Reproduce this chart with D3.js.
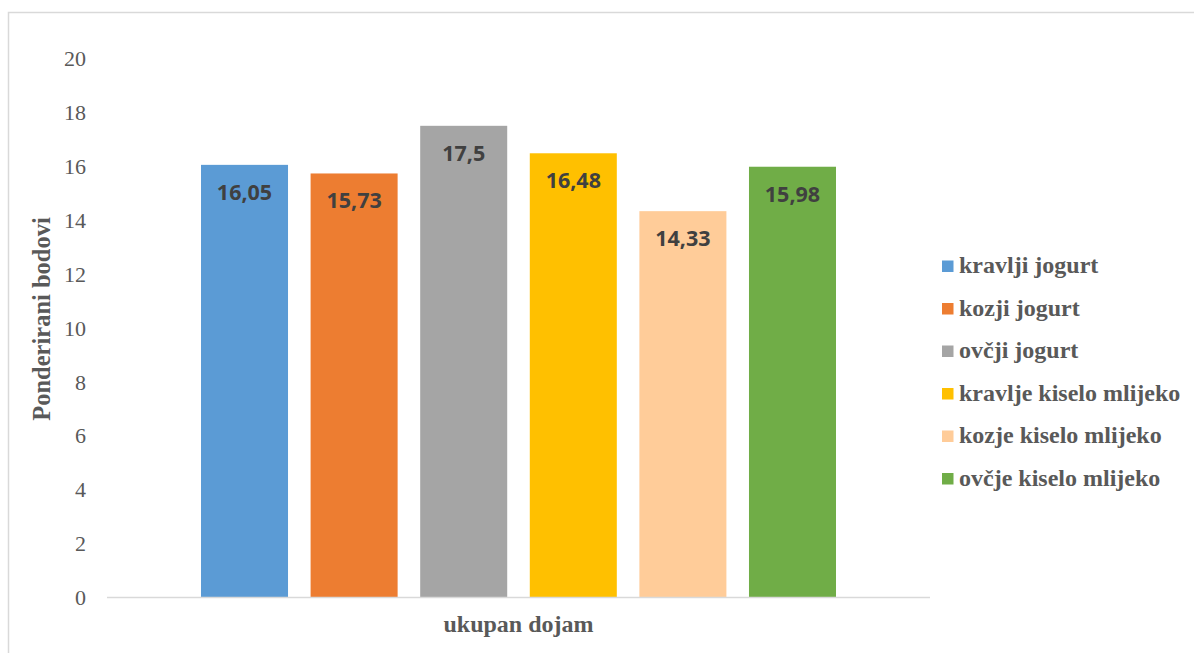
<!DOCTYPE html>
<html><head><meta charset="utf-8">
<script src="https://cdn.jsdelivr.net/npm/d3@7"></script>
<style>body{margin:0;background:#fff;}svg{display:block;}
.serif{font-family:"Liberation Serif","Times New Roman",Tinos,"DejaVu Serif",serif;}
</style>
</head><body>
<svg id="c" width="1194" height="653"></svg>
<script>
const categories = ["ukupan dojam"];
const seriesNames = ["kravlji jogurt","kozji jogurt","ovčji jogurt","kravlje kiselo mlijeko","kozje kiselo mlijeko","ovčje kiselo mlijeko"];
const seriesValues = [16.05, 15.73, 17.5, 16.48, 14.33, 15.98];
const seriesLabels = ["16,05","15,73","17,5","16,48","14,33","15,98"];
const seriesColors = ["#5b9bd5","#ed7d31","#a5a5a5","#ffc000","#ffcc99","#70ad47"];
const yTicks = [0,2,4,6,8,10,12,14,16,18,20];
const yTitle = "Ponderirani bodovi";

const svg = d3.select("#c");
svg.append("rect").attr("x",8.5).attr("y",12.5).attr("width",1200).attr("height",700)
  .attr("fill","none").attr("stroke","#d9d9d9").attr("stroke-width",1.5);

const plot = {left:107, right:930, top:58.5, bottom:597};
const y = d3.scaleLinear().domain([0,20]).range([plot.bottom, plot.top]);
const xCat = d3.scaleBand().domain(categories).range([plot.left, plot.right]).paddingInner(0).paddingOuter(0);
const groupW = 635;
const xS = d3.scaleBand().domain(seriesNames)
  .range([xCat(categories[0]) + xCat.bandwidth()/2 - groupW/2, xCat(categories[0]) + xCat.bandwidth()/2 + groupW/2])
  .paddingInner(0.206).paddingOuter(0);

// y tick labels
const yAxis = d3.axisLeft(y).tickValues(yTicks).tickSize(0).tickPadding(0);
const ga = svg.append("g").attr("transform","translate(86,0)").call(yAxis);
ga.select(".domain").remove();
ga.attr("font-family",null);
ga.selectAll("text").attr("class","serif").attr("font-size",22).attr("fill","#595959").attr("dy","0.34em");

// bars
svg.selectAll("rect.bar").data(seriesNames).enter().append("rect").attr("class","bar")
  .attr("x",d=>xS(d)).attr("width",xS.bandwidth())
  .attr("y",(d,i)=>y(seriesValues[i])).attr("height",(d,i)=>plot.bottom - y(seriesValues[i]))
  .attr("fill",(d,i)=>seriesColors[i]);

// baseline
svg.append("line").attr("x1",plot.left).attr("x2",plot.right).attr("y1",plot.bottom+0.5).attr("y2",plot.bottom+0.5)
  .attr("stroke","#d9d9d9").attr("stroke-width",1.5);

// value labels
svg.selectAll("text.val").data(seriesNames).enter().append("text").attr("class","val")
  .attr("x",d=>xS(d)+xS.bandwidth()/2).attr("y",(d,i)=>y(seriesValues[i])+35)
  .attr("text-anchor","middle").attr("font-family","'Open Sans', sans-serif").attr("font-weight","bold")
  .attr("font-size",21.5).attr("fill","#404040").text((d,i)=>seriesLabels[i]);

// axis titles
svg.append("text").attr("class","serif").attr("transform","translate(50,319) rotate(-90)").attr("text-anchor","middle")
  .attr("font-weight","bold").attr("font-size",24.5).attr("fill","#595959").text(yTitle);
svg.append("text").attr("class","serif").attr("x",(plot.left+plot.right)/2).attr("y",632).attr("text-anchor","middle")
  .attr("font-weight","bold").attr("font-size",24).attr("fill","#595959").text(categories[0]);

// legend
const lg = svg.append("g");
seriesNames.forEach((s,i)=>{
  const yy = 266 + i*42.5;
  lg.append("rect").attr("x",942).attr("y",yy-5.5).attr("width",11.5).attr("height",11.5).attr("fill",seriesColors[i]);
  lg.append("text").attr("class","serif").attr("x",959).attr("y",yy+7)
    .attr("font-weight","bold").attr("font-size",24).attr("fill","#595959").text(s);
});
</script>
</body></html>
